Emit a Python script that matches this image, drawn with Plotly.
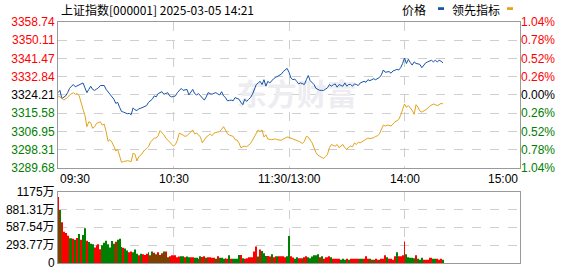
import plotly.graph_objects as go

# ---------------- data ----------------
prev_close = 3324.21
title_text = "上证指数[000001] 2025-03-05 14:21"
series_names = ["价格", "领先指标"]

price = [
    3325.26, 3326.34, 3322.50, 3323.27, 3323.73, 3325.26, 3327.26, 3328.33, 3329.10, 3328.03,
    3328.49, 3329.10, 3329.41, 3329.87, 3327.56, 3325.26, 3326.80, 3328.33, 3326.80, 3326.34,
    3326.95, 3327.56, 3328.64, 3328.49, 3328.64, 3326.80, 3325.72, 3324.80, 3323.73, 3322.19,
    3320.20, 3320.66, 3318.35, 3316.36, 3316.05, 3315.75, 3315.28, 3315.44, 3314.82, 3318.05,
    3317.13, 3316.82, 3317.59, 3317.89, 3318.35, 3318.66, 3319.12, 3320.66, 3321.42, 3322.19,
    3323.73, 3323.27, 3324.80, 3325.26, 3325.72, 3324.49, 3324.96, 3325.26, 3323.73, 3323.27,
    3323.42, 3323.73, 3325.26, 3326.34, 3327.26, 3326.34, 3326.64, 3326.80, 3324.19, 3325.26,
    3326.80, 3324.80, 3324.19, 3324.80, 3323.88, 3322.96, 3321.73, 3323.27, 3325.26, 3324.80,
    3324.49, 3324.96, 3325.26, 3324.65, 3324.19, 3325.72, 3323.73, 3322.96, 3321.42, 3321.58,
    3321.73, 3321.42, 3322.96, 3322.50, 3322.19, 3320.66, 3319.58, 3322.19, 3321.12, 3322.04,
    3322.96, 3324.49, 3326.80, 3329.10, 3329.87, 3330.63, 3329.10, 3331.40, 3328.33, 3330.63,
    3329.87, 3330.94, 3331.86, 3332.48, 3333.09, 3333.70, 3334.01, 3335.24, 3336.01, 3336.77,
    3334.93, 3332.17, 3331.40, 3331.71, 3330.63, 3329.41, 3329.87, 3329.41, 3329.10, 3331.40,
    3333.40, 3330.94, 3330.02, 3329.10, 3327.26, 3326.80, 3326.34, 3326.34, 3326.34, 3326.95,
    3327.56, 3329.10, 3328.33, 3328.95, 3329.41, 3327.87, 3329.10, 3328.64, 3328.33, 3329.87,
    3328.33, 3329.10, 3329.10, 3328.33, 3329.41, 3329.10, 3328.64, 3329.87, 3330.17, 3330.63,
    3330.17, 3331.40, 3330.94, 3331.40, 3331.86, 3331.40, 3332.02, 3332.48, 3333.70, 3336.01,
    3334.93, 3335.09, 3335.24, 3334.47, 3335.55, 3335.85, 3336.31, 3336.01, 3337.08, 3339.08,
    3341.69, 3339.08, 3341.07, 3339.54, 3338.31, 3339.84, 3339.08, 3338.92, 3338.62, 3337.08,
    3338.31, 3339.38, 3339.84, 3340.15, 3340.61, 3339.84, 3340.61, 3339.84, 3340.61, 3340.15,
    3339.38,
]

lead = [
    3323.73, 3323.27, 3322.65, 3321.73, 3322.35, 3322.96, 3324.19, 3324.80, 3325.26, 3324.49,
    3324.80, 3323.73, 3319.89, 3317.43, 3314.52, 3309.14, 3311.45, 3310.99, 3308.38, 3309.14,
    3310.68, 3310.99, 3311.45, 3309.91, 3310.37, 3306.84, 3302.24, 3303.00, 3301.78, 3299.93,
    3297.63, 3298.40, 3295.64, 3292.26, 3292.57, 3292.87, 3293.03, 3292.87, 3292.57, 3296.56,
    3296.10, 3292.87, 3295.02, 3295.64, 3297.17, 3298.09, 3298.71, 3299.63, 3301.78, 3302.70,
    3303.77, 3303.77, 3304.85, 3307.30, 3306.38, 3305.31, 3303.77, 3302.70, 3301.78, 3300.70,
    3299.93, 3300.70, 3302.70, 3306.07, 3305.77, 3305.15, 3304.54, 3304.85, 3305.77, 3306.84,
    3307.61, 3305.77, 3306.07, 3305.31, 3304.23, 3301.47, 3303.00, 3304.23, 3304.85, 3305.77,
    3304.85, 3306.07, 3306.38, 3306.54, 3306.84, 3307.92, 3309.14, 3307.61, 3305.77, 3305.15,
    3304.85, 3304.54, 3303.00, 3302.85, 3301.47, 3299.17, 3299.63, 3299.93, 3299.63, 3300.55,
    3301.16, 3302.70, 3304.23, 3306.07, 3307.61, 3306.84, 3307.61, 3304.23, 3305.31, 3303.31,
    3303.00, 3303.00, 3303.16, 3303.31, 3303.00, 3302.85, 3302.70, 3303.31, 3303.77, 3304.23,
    3304.08, 3303.77, 3303.31, 3303.00, 3302.70, 3302.24, 3301.78, 3301.16, 3302.24, 3304.54,
    3304.23, 3302.70, 3301.47, 3299.17, 3296.86, 3295.64, 3295.02, 3294.56, 3294.10, 3295.02,
    3296.10, 3299.17, 3300.70, 3300.24, 3299.93, 3300.70, 3299.17, 3299.93, 3300.70, 3299.17,
    3298.40, 3299.47, 3299.93, 3299.63, 3301.47, 3300.70, 3301.78, 3301.47, 3302.08, 3302.70,
    3303.00, 3303.77, 3303.47, 3303.62, 3303.93, 3304.54, 3304.85, 3305.77, 3307.61, 3309.91,
    3309.45, 3309.91, 3309.76, 3309.45, 3310.37, 3311.45, 3311.91, 3312.52, 3314.52, 3317.59,
    3319.89, 3318.35, 3319.12, 3318.05, 3316.82, 3314.98, 3319.58, 3318.35, 3316.51, 3316.05,
    3316.51, 3317.13, 3317.74, 3318.82, 3319.58, 3319.89, 3319.58, 3319.12, 3319.58, 3320.20,
    3319.89,
]

# volume in 万 (10k shares)
volume = [
    1085, 873, 672, 513, 492, 450, 407, 407, 397, 381,
    413, 476, 381, 460, 571, 365, 344, 317, 307, 254,
    291, 307, 227, 290, 333, 365, 307, 254, 360, 317,
    349, 381, 397, 265, 249, 238, 206, 175, 190, 175,
    222, 153, 127, 153, 143, 132, 153, 175, 127, 190,
    169, 143, 175, 132, 159, 190, 190, 95, 111, 127,
    127, 127, 95, 106, 111, 111, 95, 106, 95, 95,
    95, 85, 85, 69, 111, 100, 111, 85, 95, 95,
    85, 85, 69, 111, 85, 85, 69, 79, 69, 127,
    69, 69, 69, 69, 132, 132, 79, 69, 79, 95,
    95, 95, 190, 270, 106, 222, 196, 159, 116, 116,
    106, 143, 95, 111, 111, 111, 111, 111, 95, 111,
    444, 111, 90, 69, 95, 79, 79, 79, 95, 111,
    95, 79, 106, 127, 127, 143, 95, 111, 69, 95,
    95, 111, 95, 69, 69, 69, 69, 53, 69, 53,
    69, 53, 69, 69, 69, 69, 69, 69, 69, 69,
    111, 69, 69, 53, 53, 69, 53, 53, 69, 69,
    127, 95, 69, 69, 53, 111, 175, 111, 111, 127,
    354, 143, 95, 85, 85, 79, 127, 69, 53, 85,
    53, 53, 53, 85, 85, 69, 69, 69, 53, 69,
    53,
]

# 1 = up minute (red bar), 0 = down minute (green bar)
vol_up = [
    1, 0, 1, 1, 1, 1, 0, 0, 1, 0,
    1, 0, 1, 0, 0, 1, 0, 0, 0, 1,
    1, 1, 1, 0, 0, 0, 0, 0, 0, 0,
    1, 0, 0, 0, 1, 0, 0, 1, 1, 0,
    0, 0, 1, 0, 1, 1, 1, 0, 1, 0,
    1, 0, 1, 0, 1, 0, 1, 0, 1, 1,
    1, 1, 1, 1, 0, 0, 1, 0, 0, 1,
    1, 0, 0, 1, 0, 1, 1, 0, 1, 1,
    1, 1, 0, 1, 0, 0, 0, 1, 1, 0,
    1, 0, 0, 0, 0, 1, 0, 1, 1, 1,
    1, 1, 1, 1, 0, 1, 0, 0, 0, 1,
    1, 0, 1, 1, 0, 1, 1, 1, 1, 0,
    0, 1, 1, 0, 0, 1, 1, 0, 1, 1,
    0, 0, 0, 0, 0, 0, 1, 0, 1, 1,
    1, 1, 0, 1, 1, 1, 1, 0, 0, 0,
    1, 0, 1, 1, 1, 1, 1, 0, 0, 1,
    1, 1, 0, 1, 0, 1, 1, 0, 1, 1,
    1, 0, 1, 1, 1, 1, 0, 1, 1, 1,
    1, 0, 0, 0, 0, 0, 1, 0, 0, 0,
    1, 1, 1, 1, 1, 0, 0, 1, 1, 1,
    0,
]

price_ticks = [3289.68, 3298.31, 3306.95, 3315.58, 3324.21, 3332.84, 3341.47, 3350.11, 3358.74]
price_tick_labels = ["3289.68", "3298.31", "3306.95", "3315.58", "3324.21", "3332.84", "3341.47", "3350.11", "3358.74"]
pct_tick_labels = ["1.04%", "0.78%", "0.52%", "0.26%", "0.00%", "0.26%", "0.52%", "0.78%", "1.04%"]
vol_ticks = [0, 293.77, 587.54, 881.31, 1175]
vol_tick_labels = ["0", "293.77万", "587.54万", "881.31万", "1175万"]
time_pos = [0, 60, 120, 180, 240]
time_labels = ["09:30", "10:30", "11:30/13:00", "14:00", "15:00"]

# ---------------- styling ----------------
RED = "#ff0000"
GREEN = "#008000"
BLACK = "#000000"
BLUE = "#1653a8"
GOLD = "#e2a31c"
GRID = "#cfcfcf"
BORDER = "#9a9a9a"
FONT = "Liberation Sans, Noto Sans CJK SC, sans-serif"
CJK = "Noto Sans CJK SC, sans-serif"

W, H = 578, 276
ML, MR, MT, MB = 58, 58, 22, 6
PH = H - MT - MB
main_bottom_px = 172
vol_top_px = 196.5
main_dom = [(H - MB - main_bottom_px) / PH, 1.0]
vol_dom = [0.0, (H - MB - vol_top_px) / PH]


def tcolor(v):
    if v > prev_close + 1e-6:
        return RED
    if v < prev_close - 1e-6:
        return GREEN
    return BLACK


left_text = [f'<span style="color:{tcolor(v)}">{t}</span>' for v, t in zip(price_ticks, price_tick_labels)]
right_text = [f'<span style="color:{tcolor(v)}">{t}</span>' for v, t in zip(price_ticks, pct_tick_labels)]

xs = list(range(len(price)))
xl = list(range(len(lead)))
xv = list(range(len(volume)))
bar_colors = [RED if u else GREEN for u in vol_up]

fig = go.Figure()

# watermark (drawn first so lines sit on top)
fig.add_trace(go.Scatter(
    x=[124], y=[prev_close - 1.2], mode="text", text=["东方财富"],
    textfont=dict(family=CJK, size=30, color="#ededf1", weight="bold"),
    hoverinfo="skip", showlegend=False, xaxis="x", yaxis="y",
))

fig.add_trace(go.Scatter(
    x=xs, y=price, mode="lines", line=dict(color=BLUE, width=1),
    name=series_names[0], hoverinfo="skip", showlegend=False, xaxis="x", yaxis="y",
))
fig.add_trace(go.Scatter(
    x=xl, y=lead, mode="lines", line=dict(color=GOLD, width=1),
    name=series_names[1], hoverinfo="skip", showlegend=False, xaxis="x", yaxis="y3",
))
fig.add_trace(go.Bar(
    x=xv, y=volume, marker=dict(color=bar_colors, line=dict(width=0)),
    hoverinfo="skip", showlegend=False, xaxis="x2", yaxis="y2",
))

axis_common = dict(showline=True, mirror=True, linecolor=BORDER, linewidth=1,
                   zeroline=False, showgrid=True, gridcolor=GRID, griddash="dash",
                   gridwidth=1, fixedrange=True)

fig.update_layout(
    width=W, height=H, autosize=False,
    margin=dict(l=ML, r=MR, t=MT, b=MB, pad=0),
    paper_bgcolor="white", plot_bgcolor="white",
    font=dict(family=FONT, size=12, color=BLACK),
    bargap=0.52,
    xaxis=dict(domain=[0, 1], anchor="y", range=[0, 240], tickvals=[60, 120, 180],
               showticklabels=False, ticks="", **axis_common),
    yaxis=dict(domain=main_dom, anchor="x", range=[price_ticks[0], price_ticks[-1]],
               tickvals=price_ticks, ticktext=left_text, ticks="",
               tickfont=dict(family=FONT, size=12), **axis_common),
    yaxis3=dict(overlaying="y", anchor="x", side="right",
                range=[price_ticks[0], price_ticks[-1]],
                tickvals=price_ticks, ticktext=right_text, ticks="",
                tickfont=dict(family=FONT, size=12),
                showgrid=False, zeroline=False, showline=False, fixedrange=True),
    xaxis2=dict(domain=[0, 1], anchor="y2", range=[0, 240], tickvals=[60, 120, 180],
                showticklabels=False, ticks="", **axis_common),
    yaxis2=dict(domain=vol_dom, anchor="x2", range=[0, 1175],
                tickvals=vol_ticks, ticktext=vol_tick_labels, ticks="",
                tickfont=dict(family=FONT, size=12, color=BLACK), **axis_common),
)

annotations = []
# time labels under main chart
for i, (p, t) in enumerate(zip(time_pos, time_labels)):
    anchor = "left" if i == 0 else ("right" if i == len(time_pos) - 1 else "center")
    annotations.append(dict(x=p, xref="x", y=main_dom[0], yref="paper", text=t,
                            showarrow=False, xanchor=anchor, yanchor="top", yshift=-2,
                            font=dict(family=FONT, size=12, color=BLACK)))
# title
annotations.append(dict(x=0, xref="paper", y=1 + (MT - 9) / PH, yref="paper", text=title_text,
                        showarrow=False, xanchor="left", yanchor="middle", xshift=1,
                        font=dict(family=CJK, size=12, color=BLACK)))
# legend texts
leg_y = 1 + (MT - 9) / PH
annotations.append(dict(x=(428 - ML) / (W - ML - MR), xref="paper", y=leg_y, yref="paper",
                        text=series_names[0], showarrow=False, xanchor="right", yanchor="middle",
                        font=dict(family=CJK, size=12, color=BLACK)))
annotations.append(dict(x=(502 - ML) / (W - ML - MR), xref="paper", y=leg_y, yref="paper",
                        text=series_names[1], showarrow=False, xanchor="right", yanchor="middle",
                        font=dict(family=CJK, size=12, color=BLACK)))
fig.update_layout(annotations=annotations)

PW = W - ML - MR


def px_x(v):
    return (v - ML) / PW


def px_y(v):
    return (H - MB - v) / PH


shapes = [
    dict(type="rect", xref="paper", yref="paper", x0=px_x(438), x1=px_x(444),
         y0=px_y(9.6), y1=px_y(6.8), fillcolor=BLUE, line=dict(width=0)),
    dict(type="rect", xref="paper", yref="paper", x0=px_x(507), x1=px_x(513),
         y0=px_y(9.6), y1=px_y(6.8), fillcolor=GOLD, line=dict(width=0)),
]
fig.update_layout(shapes=shapes)

fig.write_html("out.html")
